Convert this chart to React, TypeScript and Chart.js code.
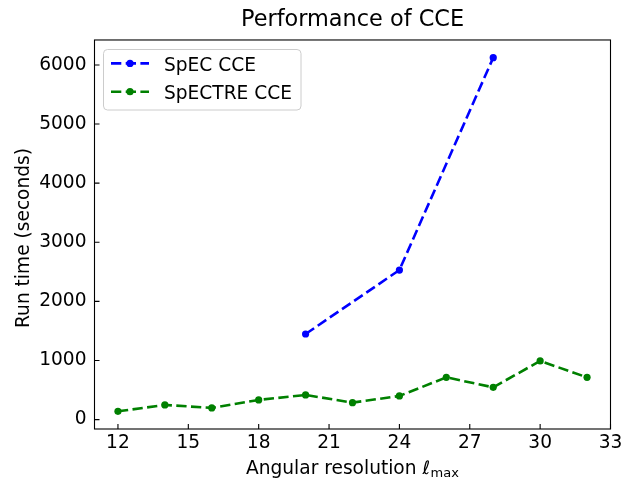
import React, { useEffect, useRef } from "react";
import { Chart, registerables } from "chart.js";

Chart.register(...registerables);

// ---- data ----
const specX = [20, 24, 28];
const specY = [1448, 2530, 6123];
const spectreX = [12, 14, 16, 18, 20, 22, 24, 26, 28, 30, 32];
const spectreY = [140, 248, 198, 333, 417, 287, 400, 715, 546, 992, 715];
const xTicks = [12, 15, 18, 21, 24, 27, 30, 33];
const yTicks = [0, 1000, 2000, 3000, 4000, 5000, 6000];
const seriesLabels = ["SpEC CCE", "SpECTRE CCE"];
const seriesColors = ["#0000ff", "#008000"];
const titleText = "Performance of CCE";
const yTitleText = "Run time (seconds)";
const xTitleMain = "Angular resolution ";
const xTitleSymbol = "\u2113";
const xTitleSub = "max";

const FONT = "'DejaVu Sans', 'Liberation Sans', sans-serif";
const FS = 18.6;

const framePlugin = {
  id: "frameTicks",
  afterDraw(chart: any) {
    const { ctx, chartArea } = chart;
    const { left, top, right, bottom } = chartArea;
    ctx.save();
    ctx.strokeStyle = "#000";
    ctx.lineWidth = 1.1;
    ctx.setLineDash([]);
    ctx.strokeRect(left, top, right - left, bottom - top);
    const xs = chart.scales.x;
    const ys = chart.scales.y;
    ctx.beginPath();
    xs.ticks.forEach((t: any) => {
      const px = xs.getPixelForValue(t.value);
      ctx.moveTo(px, bottom);
      ctx.lineTo(px, bottom - 5);
    });
    ys.ticks.forEach((t: any) => {
      const py = ys.getPixelForValue(t.value);
      ctx.moveTo(left, py);
      ctx.lineTo(left + 5, py);
    });
    ctx.stroke();

    // axis titles
    ctx.fillStyle = "#000";
    const cx = (left + right) / 2;
    const baseY = 473.5;
    const subFs = FS * 0.7;
    ctx.font = `${FS}px ${FONT}`;
    const w1 = ctx.measureText(xTitleMain).width;
    ctx.font = `italic ${FS}px ${FONT}`;
    const w2 = ctx.measureText(xTitleSymbol).width;
    ctx.font = `${subFs}px ${FONT}`;
    const w3 = ctx.measureText(xTitleSub).width;
    let x0 = cx - (w1 + w2 + 0.5 + w3) / 2;
    ctx.textBaseline = "alphabetic";
    ctx.textAlign = "left";
    ctx.font = `${FS}px ${FONT}`;
    ctx.fillText(xTitleMain, x0, baseY);
    x0 += w1;
    ctx.font = `italic ${FS}px ${FONT}`;
    ctx.fillText(xTitleSymbol, x0, baseY);
    x0 += w2 + 0.5;
    ctx.font = `${subFs}px ${FONT}`;
    ctx.fillText(xTitleSub, x0, baseY + 3);

    // y title
    ctx.save();
    ctx.translate(29.4, (top + bottom) / 2 + 3.5);
    ctx.rotate(-Math.PI / 2);
    ctx.font = `${FS}px ${FONT}`;
    ctx.textAlign = "center";
    ctx.textBaseline = "alphabetic";
    ctx.fillText(yTitleText, 0, 0);
    ctx.restore();

    // legend
    const bx = 103.5, by = 49.5, bw = 197.5, bh = 60.5, r = 4;
    ctx.beginPath();
    ctx.moveTo(bx + r, by);
    ctx.lineTo(bx + bw - r, by);
    ctx.arcTo(bx + bw, by, bx + bw, by + r, r);
    ctx.lineTo(bx + bw, by + bh - r);
    ctx.arcTo(bx + bw, by + bh, bx + bw - r, by + bh, r);
    ctx.lineTo(bx + r, by + bh);
    ctx.arcTo(bx, by + bh, bx, by + bh - r, r);
    ctx.lineTo(bx, by + r);
    ctx.arcTo(bx, by, bx + r, by, r);
    ctx.closePath();
    ctx.fillStyle = "rgba(255,255,255,0.8)";
    ctx.fill();
    ctx.strokeStyle = "#cccccc";
    ctx.lineWidth = 1;
    ctx.stroke();

    chart.data.datasets.forEach((ds: any, i: number) => {
      const base = 70.7 + i * 28.3;
      const ly = base - 7.3;
      ctx.beginPath();
      ctx.strokeStyle = ds.borderColor;
      ctx.lineWidth = ds.borderWidth;
      ctx.setLineDash(ds.borderDash);
      ctx.moveTo(111, ly);
      ctx.lineTo(149, ly);
      ctx.stroke();
      ctx.setLineDash([]);
      ctx.beginPath();
      ctx.fillStyle = ds.backgroundColor;
      ctx.arc(130, ly, ds.pointRadius, 0, Math.PI * 2);
      ctx.fill();
      ctx.fillStyle = "#000";
      ctx.font = `${FS}px ${FONT}`;
      ctx.textAlign = "left";
      ctx.textBaseline = "alphabetic";
      ctx.fillText(ds.label, 164, base);
    });
    ctx.restore();
  },
};

export default function App() {
  const ref = useRef<HTMLCanvasElement | null>(null);
  useEffect(() => {
    if (!ref.current) return;
    const mk = (i: number, xs: number[], ys: number[]) => ({
      label: seriesLabels[i],
      data: xs.map((x, k) => ({ x, y: ys[k] })),
      borderColor: seriesColors[i],
      backgroundColor: seriesColors[i],
      borderWidth: 2.6,
      borderDash: [10.3, 4.4],
      pointRadius: 3.6,
      pointBorderWidth: 0,
      pointHoverRadius: 3.6,
      tension: 0,
      fill: false,
    });
    const chart = new Chart(ref.current, {
      type: "line",
      data: {
        datasets: [mk(0, specX, specY), mk(1, spectreX, spectreY)] as any,
      },
      options: {
        responsive: false,
        animation: false,
        devicePixelRatio: 1,
        events: [],
        layout: { padding: { left: 0, right: 24.5, top: 0, bottom: 0 } },
        plugins: {
          legend: { display: false },
          tooltip: { enabled: false },
          title: {
            display: true,
            text: titleText,
            color: "#000",
            fullSize: false,
            font: { family: FONT, size: 22.4, weight: "normal", lineHeight: 1.2 },
            padding: { top: 7, bottom: 6.1 },
          },
        },
        scales: {
          x: {
            type: "linear",
            min: 11,
            max: 33,
            afterBuildTicks: (s: any) => {
              s.ticks = xTicks.map((v) => ({ value: v }));
            },
            afterFit: (s: any) => {
              s.height = 49;
            },
            grid: { display: false, drawTicks: false },
            border: { display: false },
            ticks: {
              color: "#000",
              font: { family: FONT, size: FS },
              padding: 3,
              maxRotation: 0,
              autoSkip: false,
              callback: (v: any) => String(v),
            },
          },
          y: {
            type: "linear",
            min: -159,
            max: 6422,
            afterBuildTicks: (s: any) => {
              s.ticks = yTicks.map((v) => ({ value: v }));
            },
            afterFit: (s: any) => {
              s.width = 94.5;
            },
            grid: { display: false, drawTicks: false },
            border: { display: false },
            ticks: {
              color: "#000",
              font: { family: FONT, size: FS },
              padding: 8,
              autoSkip: false,
              callback: (v: any) => String(v),
            },
          },
        },
      },
      plugins: [framePlugin],
    });
    return () => chart.destroy();
  }, []);
  return (
    <div style={{ position: "absolute", left: 0, top: 0, width: 635, height: 478 }}>
      <canvas ref={ref} width={635} height={478} style={{ display: "block" }} />
    </div>
  );
}
